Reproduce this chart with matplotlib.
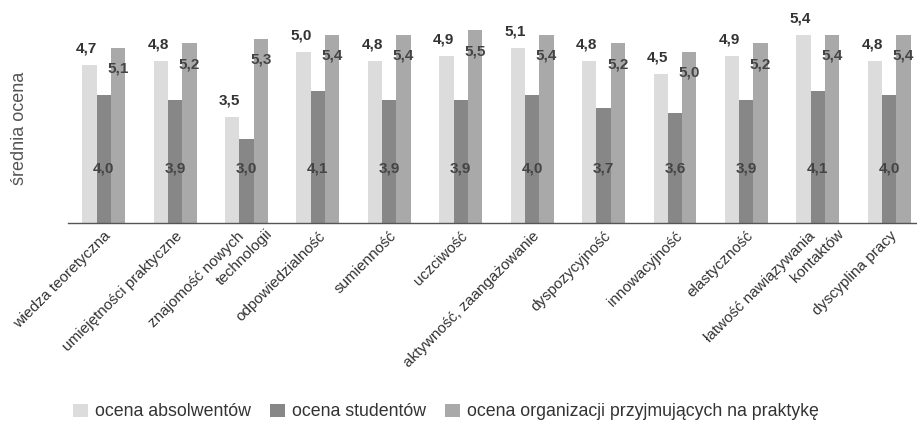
import matplotlib
matplotlib.use('Agg')
import matplotlib.pyplot as plt
import numpy as np

plt.rcParams['font.family'] = ['Liberation Sans Narrow', 'Liberation Sans', 'DejaVu Sans']

categories = ['wiedza teoretyczna', 'umiejętności praktyczne', 'znajomość nowych\ntechnologii',
              'odpowiedzialność', 'sumienność', 'uczciwość', 'aktywność, zaangażowanie',
              'dyspozycyjność', 'innowacyjność', 'elastyczność',
              'łatwość nawiązywania\nkontaktów', 'dyscyplina pracy']
absolwenci = [4.7, 4.8, 3.5, 5.0, 4.8, 4.9, 5.1, 4.8, 4.5, 4.9, 5.4, 4.8]
studenci = [4.0, 3.9, 3.0, 4.1, 3.9, 3.9, 4.0, 3.7, 3.6, 3.9, 4.1, 4.0]
organizacje = [5.1, 5.2, 5.3, 5.4, 5.4, 5.5, 5.4, 5.2, 5.0, 5.2, 5.4, 5.4]
series_names = ['ocena absolwentów', 'ocena studentów', 'ocena organizacji przyjmujących na praktykę']

c_abs = '#dcdcdc'
c_stu = '#878787'
c_org = '#a9a9a9'


def fmt(v):
    return '{:.1f}'.format(v).replace('.', ',')


def main():
    fig = plt.figure(figsize=(9.17, 4.26), dpi=100)
    ax = fig.add_axes([68 / 917, 203 / 426, 849 / 917, 223 / 426])

    x = np.arange(len(categories))
    w = 0.2
    bottom = 1.0
    ax.bar(x - w, np.array(absolwenci) - bottom, w, bottom=bottom, color=c_abs, label=series_names[0])
    ax.bar(x, np.array(studenci) - bottom, w, bottom=bottom, color=c_stu, label=series_names[1])
    ax.bar(x + w, np.array(organizacje) - bottom, w, bottom=bottom, color=c_org, label=series_names[2])

    for i in range(len(categories)):
        ax.text(x[i] - w * 1.2, absolwenci[i] + 0.22, fmt(absolwenci[i]), ha='center', va='bottom',
                fontsize=11, fontweight='bold', color='#333333')
        ax.text(x[i], 2.3, fmt(studenci[i]), ha='center', va='center',
                fontsize=11, fontweight='bold', color='#444444')
        ax.text(x[i] + w, organizacje[i] - 0.48, fmt(organizacje[i]), ha='center', va='center',
                fontsize=11, fontweight='bold', color='#444444')

    ax.set_xlim(-0.5, 11.39)
    ax.set_ylim(1.05, 6.2)
    ax.set_yticks([])
    ax.set_xticks([])

    # category labels, rotated; second lines shifted like in the source
    trans = ax.get_xaxis_transform()
    for i, cat in enumerate(categories):
        lines = cat.split('\n')
        offs = [(0, -6)] if len(lines) == 1 else [(-10, -6), (19, -4)]
        for line, (dx, dy) in zip(lines, offs):
            ax.annotate(line, xy=(x[i], 0), xycoords=trans, xytext=(dx, dy),
                        textcoords='offset pixels', rotation=45, rotation_mode='anchor',
                        ha='right', va='top', fontsize=11, color='#333333',
                        annotation_clip=False)

    for s in ['left', 'right', 'top']:
        ax.spines[s].set_visible(False)
    ax.spines['bottom'].set_color('#555555')
    ax.spines['bottom'].set_linewidth(1.0)

    fig.text(20 / 917, 1 - 128 / 426, 'średnia ocena', rotation=90, ha='center', va='center',
             fontsize=13, color='#555555')

    fig.legend(loc='center', bbox_to_anchor=(446 / 917, 1 - 412 / 426), ncol=3, frameon=False,
               fontsize=12.8, handlelength=0.8, handleheight=0.8, handletextpad=0.4,
               columnspacing=1.1, labelcolor='#333333')

    plt.savefig('out.png', dpi=100)


if __name__ == '__main__':
    main()
